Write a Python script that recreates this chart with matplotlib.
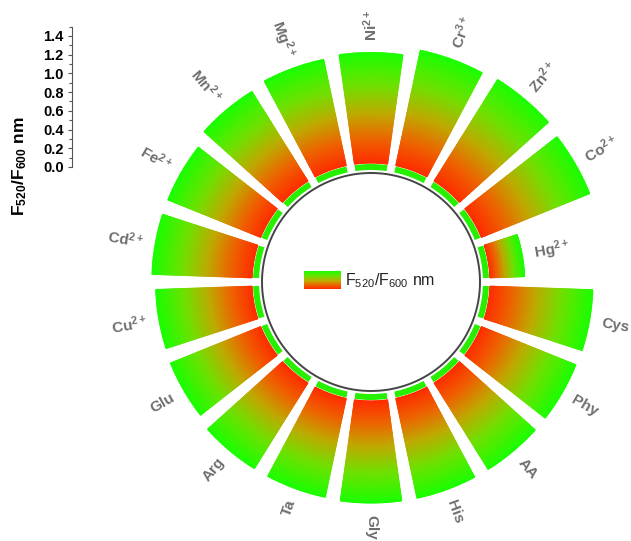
import numpy as np
import matplotlib
matplotlib.use('Agg')
import matplotlib.pyplot as plt
from matplotlib.colors import LinearSegmentedColormap
from matplotlib.ticker import MultipleLocator

plt.rcParams['font.family'] = ['Liberation Sans', 'DejaVu Sans']
plt.rcParams['mathtext.default'] = 'regular'

# analytes, clockwise from the top
labels = ['Ni$^{2+}$', 'Cr$^{3+}$', 'Zn$^{2+}$', 'Co$^{2+}$', 'Hg$^{2+}$',
          'Cys', 'Phy', 'AA', 'His', 'Gly', 'Ta', 'Arg', 'Glu',
          'Cu$^{2+}$', 'Cd$^{2+}$', 'Fe$^{2+}$', 'Mn$^{2+}$', 'Mg$^{2+}$']
# F520/F600 ratio
ratio = [1.18, 1.26, 1.28, 1.25, 0.37, 1.10, 1.09, 1.09, 1.09, 1.09,
         1.08, 1.08, 1.04, 1.03, 1.07, 1.07, 1.13, 1.16]
scale_ticks = [0.0, 0.2, 0.4, 0.6, 0.8, 1.0, 1.2, 1.4]

W, H = 631, 541
k = 93.6            # pixels per ratio unit
cx, cy = 371, 282   # centre of the ring (pixels from top-left)
rmax = 2.9
hole = 109 / k
strip0, strip1 = 112 / k, 118 / k
base = 119 / k
gap = 12 / k

cmap = LinearSegmentedColormap.from_list(
    'rg', [(0, '#ff2d00'), (0.22, '#ee6400'), (0.45, '#c0aa00'),
           (0.7, '#72e000'), (1, '#1cff00')])

fig = plt.figure(figsize=(W / 100, H / 100), dpi=100)

R = rmax * k
ax = fig.add_axes([(cx - R) / W, (H - cy - R) / H, 2 * R / W, 2 * R / H],
                  projection='polar')
ax.set_theta_zero_location('N')
ax.set_theta_direction(-1)
ax.set_ylim(0, rmax)
ax.set_axis_off()

n = len(ratio)
step = 2 * np.pi / n
width = step * 0.8
theta = np.arange(n) * step

# thin green strip under every bar
ax.bar(theta, strip1 - strip0, width=width, bottom=strip0, color='#26f000',
       linewidth=0)

# gradient bars
for i, v in enumerate(ratio):
    th = np.linspace(theta[i] - width / 2, theta[i] + width / 2, 40)
    rr = np.linspace(base, base + v, 60)
    T, Rr = np.meshgrid(th, rr)
    C = (Rr - base) / v
    ax.pcolormesh(T, Rr, C, cmap=cmap, vmin=0, vmax=1, shading='gouraud')

# inner circle
tt = np.linspace(0, 2 * np.pi, 400)
ax.plot(tt, np.full_like(tt, hole), color='#444444', lw=1.4)

# category labels
for i, (lab, v) in enumerate(zip(labels, ratio)):
    rot = 90 - np.degrees(theta[i])
    ha = 'left'
    if rot < -90:
        rot += 180
        ha = 'right'
    ax.text(theta[i], base + v + gap, lab, rotation=rot, rotation_mode='anchor',
            ha=ha, va='center', fontsize=11, fontweight='bold', color='#6e6e6e')

# legend in the middle
lax = fig.add_axes([304 / W, 1 - 289 / H, 37 / W, 18 / H])
lax.imshow(np.linspace(1, 0, 50).reshape(-1, 1), cmap=cmap, aspect='auto',
           vmin=0, vmax=1)
lax.set_axis_off()
fig.text(345 / W, 1 - 281 / H, 'F$_{520}$/F$_{600}$ nm', fontsize=11.5,
         va='center', ha='left', color='#222222')

# scale bar
sax = fig.add_axes([72 / W, 1 - 167 / H, 0.01, 1.5 * k / H])
sax.set_ylim(0, 1.5)
for s in ['right', 'top', 'bottom']:
    sax.spines[s].set_visible(False)
sax.spines['left'].set_color('#555555')
sax.spines['left'].set_linewidth(0.8)
sax.patch.set_visible(False)
sax.set_xticks([])
sax.set_yticks(scale_ticks)
sax.set_yticklabels([f'{t:.1f}' for t in scale_ticks], fontweight='bold')
sax.yaxis.set_minor_locator(MultipleLocator(0.1))
sax.tick_params(axis='y', which='major', length=3, width=0.8, color='#555555',
                labelsize=10.5, pad=3)
sax.tick_params(axis='y', which='minor', length=2, width=0.8, color='#555555')
fig.text(20 / W, 1 - 166 / H, 'F$_{520}$/F$_{600}$ nm', rotation=90,
         fontsize=12.5, fontweight='bold', ha='center', va='center')

fig.savefig('out.png', dpi=100)
